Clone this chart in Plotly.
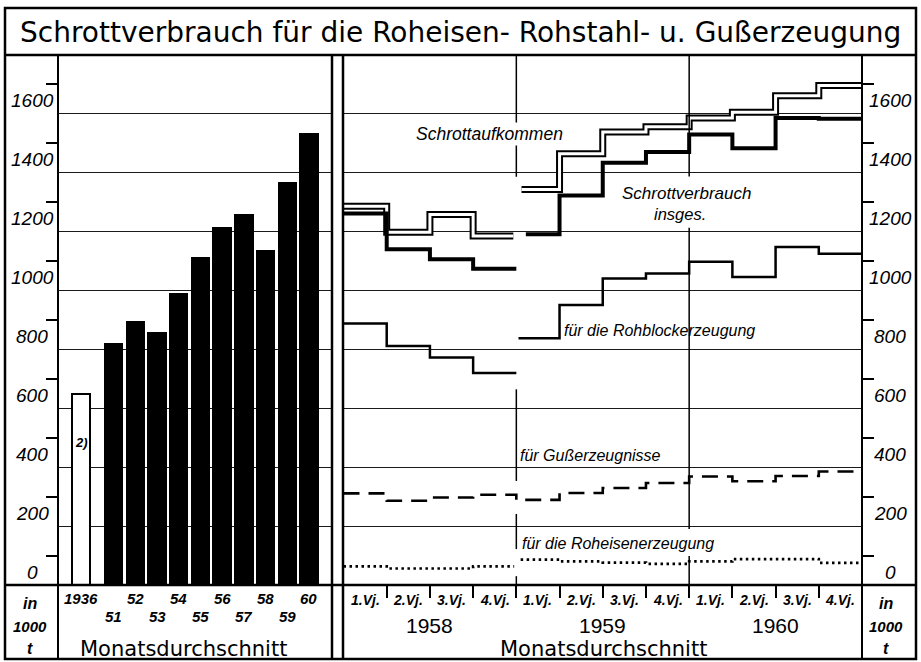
import plotly.graph_objects as go

W, H = 921, 662

# ---------------- data (1000 t, Monatsdurchschnitt) ----------------
bar_years = ["1936", "51", "52", "53", "54", "55", "56", "57", "58", "59", "60"]
bar_values = [649, 819, 891, 855, 989, 1109, 1212, 1256, 1135, 1365, 1529]

quarter_labels = ["1.Vj.", "2.Vj.", "3.Vj.", "4.Vj."]
year_labels = ["1958", "1959", "1960"]
schrottaufkommen = [1285, 1197, 1257, 1184, 1342, 1463, 1537, 1555, 1585, 1604, 1660, 1695]
schrottverbrauch = [1261, 1139, 1105, 1073, 1190, 1322, 1433, 1469, 1529, 1482, 1585, 1582]
rohblock = [887, 811, 772, 719, 837, 950, 1040, 1057, 1097, 1045, 1147, 1124]
guss = [311, 286, 297, 306, 289, 312, 329, 346, 368, 352, 370, 385]
roheisen = [63, 56, 56, 63, 86, 80, 76, 72, 80, 88, 88, 75]

y_ticks = list(range(0, 1601, 200))

# ---------------- helpers ----------------
def px(p):
    return p / W

def py(p):
    return 1 - p / H

YMAX = (585 - 55) / 0.2947
FONT = "Liberation Sans"
WIDE = "DejaVu Sans"
BLACK = "black"


def step_xy(values, start, end, gap_start=0.0, gap_end=0.0):
    xs = [start + gap_start] + list(range(start + 1, end)) + [end - gap_end]
    ys = list(values[start:end]) + [values[end - 1]]
    return xs, ys


def step_series(values, gap_end, gap_start, split=4):
    x1, y1 = step_xy(values, 0, split, 0.0, gap_end)
    x2, y2 = step_xy(values, split, len(values), gap_start, 0.0)
    return x1 + [None] + x2, y1 + [None] + y2


fig = go.Figure()

# ---------------- left panel bars ----------------
GAP_1936 = 0.5
bar_x = [i - 1 - (GAP_1936 if i == 0 else 0) for i in range(len(bar_years))]
bar_colors = ["white" if y == "1936" else BLACK for y in bar_years]
fig.add_trace(go.Bar(
    x=bar_x, y=bar_values, width=0.8,
    marker=dict(color=bar_colors, line=dict(color=BLACK, width=2)),
    xaxis="x", yaxis="y", showlegend=False, hoverinfo="skip"))

# ---------------- right panel step lines ----------------
xa, ya = step_series(schrottaufkommen, 0.07, 0.12)
fig.add_trace(go.Scatter(x=xa, y=ya, mode="lines", line=dict(shape="hv", color=BLACK, width=7),
                         xaxis="x2", yaxis="y2", showlegend=False, hoverinfo="skip"))
fig.add_trace(go.Scatter(x=xa, y=ya, mode="lines", line=dict(shape="hv", color="white", width=3),
                         xaxis="x2", yaxis="y2", showlegend=False, hoverinfo="skip"))

xv, yv = step_series(schrottverbrauch, 0.0, 0.22)
fig.add_trace(go.Scatter(x=xv, y=yv, mode="lines", line=dict(shape="hv", color=BLACK, width=4),
                         xaxis="x2", yaxis="y2", showlegend=False, hoverinfo="skip"))

xr, yr = step_series(rohblock, 0.0, 0.05)
fig.add_trace(go.Scatter(x=xr, y=yr, mode="lines", line=dict(shape="hv", color=BLACK, width=2.5),
                         xaxis="x2", yaxis="y2", showlegend=False, hoverinfo="skip"))

xg, yg = step_xy(guss, 0, len(guss))
fig.add_trace(go.Scatter(x=xg, y=yg, mode="lines",
                         line=dict(shape="hv", color=BLACK, width=2.6, dash="16px,9px"),
                         xaxis="x2", yaxis="y2", showlegend=False, hoverinfo="skip"))

xe, ye = step_series(roheisen, 0.05, 0.1)
fig.add_trace(go.Scatter(x=xe, y=ye, mode="lines",
                         line=dict(shape="hv", color=BLACK, width=2.7, dash="2.5px,3.5px"),
                         xaxis="x2", yaxis="y2", showlegend=False, hoverinfo="skip"))

# ---------------- axes ----------------
yaxis_common = dict(range=[0, YMAX], domain=[py(585), py(55)], tickvals=y_ticks,
                    showticklabels=False, ticks="", showgrid=True, gridcolor="#1a1a1a",
                    gridwidth=1, zeroline=False, showline=False, fixedrange=True,
                    minor=dict(tick0=100, dtick=200, ticks="outside", ticklen=11,
                               tickwidth=1.5, tickcolor=BLACK, showgrid=False))
fig.update_layout(
    width=W, height=H, margin=dict(l=0, r=0, t=0, b=0),
    paper_bgcolor="white", plot_bgcolor="white", bargap=0,
    xaxis=dict(domain=[px(58), px(332)], range=[-2.56, 10.06], showticklabels=False,
               ticks="", showgrid=False, zeroline=False, anchor="y", fixedrange=True),
    yaxis=dict(anchor="x", side="left", **yaxis_common),
    xaxis2=dict(domain=[px(343.5), px(862)], range=[0, 12], showticklabels=False,
                tickvals=list(range(1, 12)), ticks="outside", ticklen=12, tickwidth=1.5,
                tickcolor=BLACK, showgrid=False, zeroline=False, anchor="y2", fixedrange=True),
    yaxis2=dict(anchor="x2", side="right", **yaxis_common),
)

# ---------------- frame shapes ----------------
shapes = []
def pline(x0, y0, x1, y1, w=2.0):
    shapes.append(dict(type="line", xref="paper", yref="paper", x0=px(x0), y0=py(y0),
                       x1=px(x1), y1=py(y1), line=dict(color=BLACK, width=w)))

shapes.append(dict(type="rect", xref="paper", yref="paper", x0=px(5), y0=py(659), x1=px(916),
                   y1=py(8), line=dict(color=BLACK, width=2.5)))
pline(5, 55, 916, 55, 2.5)
pline(58, 55, 58, 659, 2)
pline(332, 55, 332, 659, 2.5)
pline(343, 55, 343, 659, 2.5)
pline(862, 55, 862, 659, 2)
pline(5, 585, 916, 585, 2.5)

# year separators in the right panel (interrupted where curves pass)
for xb, segs in [(4, [(0, 30), (122, 241), (353, 664), (1385, YMAX)]),
                 (8, [(0, 98), (190, 1212), (1386, YMAX)])]:
    for a, b in segs:
        shapes.append(dict(type="line", xref="x2", yref="y2", x0=xb, x1=xb, y0=a, y1=b,
                           line=dict(color=BLACK, width=1.5)))
fig.update_layout(shapes=shapes)

# ---------------- text ----------------
ann = []
def text(x, y, s, size, italic=False, bold=False, xanchor="center", bg=None, family=FONT):
    t = s
    if bold:
        t = f"<b>{t}</b>"
    if italic:
        t = f"<i>{t}</i>"
    d = dict(xref="paper", yref="paper", x=px(x), y=py(y), text=t, showarrow=False,
             xanchor=xanchor, yanchor="middle", font=dict(family=family, size=size, color=BLACK))
    if bg:
        d["bgcolor"] = bg
    ann.append(d)

text(460.5, 32, "Schrottverbrauch für die Roheisen- Rohstahl- u. Gußerzeugung", 28, family=WIDE)

# y labels
for v in y_ticks:
    ann.append(dict(xref="paper", yref="y", x=px(32), y=v, yshift=13, text=f"<i>{v}</i>",
                    showarrow=False, xanchor="center", yanchor="middle",
                    font=dict(family=FONT, size=19, color=BLACK)))
    ann.append(dict(xref="paper", yref="y2", x=px(890), y=v, yshift=13, text=f"<i>{v}</i>",
                    showarrow=False, xanchor="center", yanchor="middle",
                    font=dict(family=FONT, size=19, color=BLACK)))

# unit labels
for xc in (30, 886):
    text(xc, 603, "in", 16, italic=True, bold=True)
    text(xc, 626, "1000", 15, italic=True, bold=True)
    text(xc, 648, "t", 16, italic=True, bold=True)

# bar category labels
for i, (lab, xv_) in enumerate(zip(bar_years, bar_x)):
    row_y = 598 if (lab == "1936" or int(lab) % 2 == 0) else 616
    ann.append(dict(xref="x", yref="paper", x=xv_, y=py(row_y), text=f"<i><b>{lab}</b></i>",
                    showarrow=False, xanchor="center", yanchor="middle",
                    font=dict(family=FONT, size=15, color=BLACK)))
ann.append(dict(xref="x", yref="y", x=bar_x[0], y=482, text="<i><b>2)</b></i>", showarrow=False,
                font=dict(family=FONT, size=13, color=BLACK)))
text(183, 649, "Monatsdurchschnitt", 21, family=WIDE)

# quarter / year labels
for yi, yl in enumerate(year_labels):
    for qi, ql in enumerate(quarter_labels):
        ann.append(dict(xref="x2", yref="paper", x=yi * 4 + qi + 0.5, y=py(600),
                        text=f"<i><b>{ql}</b></i>", showarrow=False, xanchor="center",
                        yanchor="middle", font=dict(family=FONT, size=14, color=BLACK)))
    ann.append(dict(xref="x2", yref="paper", x=yi * 4 + 2, y=py(625), text=yl, showarrow=False,
                    xanchor="center", yanchor="middle", font=dict(family=FONT, size=21, color=BLACK)))
text(603, 649, "Monatsdurchschnitt", 21, family=WIDE)

# series labels
text(489, 134, "Schrottaufkommen", 17.5, italic=True, bg="white")
text(620, 193, "Schrottverbrauch", 17, italic=True, xanchor="left")
text(680, 214, "insges.", 16.5, italic=True)
text(562, 330, "für die Rohblockerzeugung", 16, italic=True, xanchor="left")
text(518, 455, "für Gußerzeugnisse", 16, italic=True, xanchor="left")
text(520, 543, "für die Roheisenerzeugung", 16, italic=True, xanchor="left")

fig.update_layout(annotations=ann)
fig.write_html("out.html", config={"displayModeBar": False},
               post_script="document.body.style.margin='0';document.body.style.overflow='hidden';")
